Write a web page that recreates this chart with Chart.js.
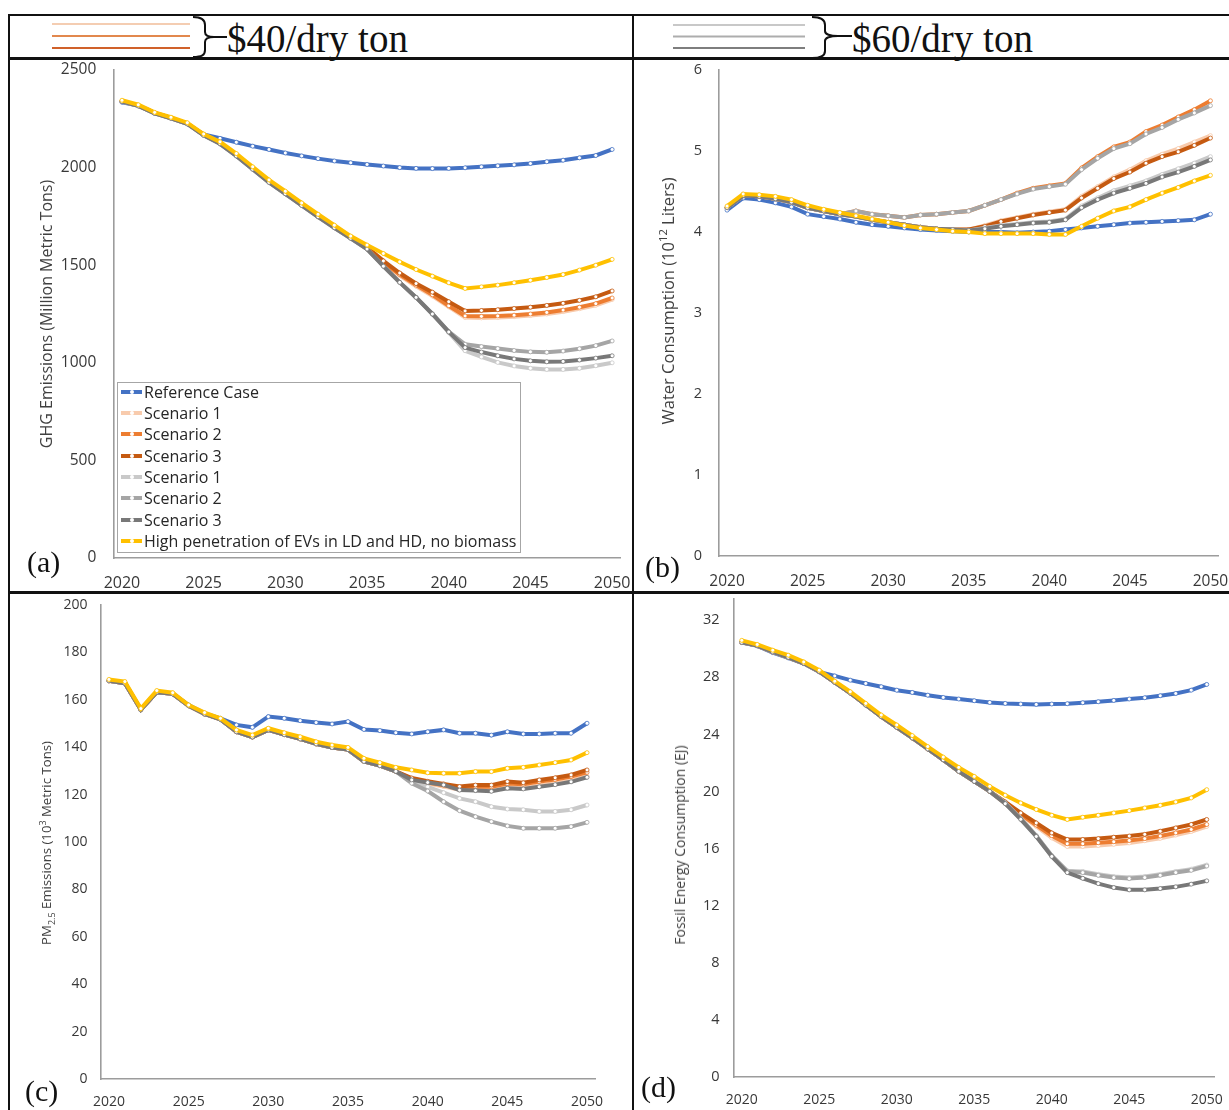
<!DOCTYPE html>
<html>
<head>
<meta charset="utf-8">
<script src="https://cdn.jsdelivr.net/npm/chart.js@4.4.1/dist/chart.umd.min.js"></script>
<style>
  html, body { margin: 0; padding: 0; background: #fff; }
  body { width: 1229px; height: 1110px; position: relative; overflow: hidden; font-family: "Open Sans", sans-serif; }
  svg.frame { position: absolute; left: 0; top: 0; }
  canvas.panel { position: absolute; }
  .ytitle { position: absolute; white-space: nowrap; color: #404040; transform: translate(-50%, -50%) rotate(-90deg); line-height: 1; }
  .ytitle sup, .ytitle sub { font-size: 0.68em; line-height: 0; }
  .tag { position: absolute; font-family: "Liberation Serif", "Times New Roman", serif; font-size: 30px; color: #111; line-height: 1; }
  .price { position: absolute; font-family: "Liberation Serif", "Times New Roman", serif; font-size: 39px; color: #111; line-height: 1; white-space: nowrap; }
  #legend { position: absolute; left: 117px; top: 382px; width: 404px; height: 171px; border: 1px solid #a6a6a6; box-sizing: border-box; background: #fff; padding-left: 3px; }
  #legend .rows { position: relative; top: -2px; }
  #legend .item { height: 21.35px; display: flex; align-items: center; font-size: 16px; color: #262626; white-space: nowrap; }
  #legend .sw { position: relative; width: 21px; height: 4px; margin-right: 2px; flex: none; }
  #legend .sw i { position: absolute; left: 8.5px; top: 0; width: 4px; height: 4px; border-radius: 50%; background: #fff; }
</style>
</head>
<body>

<svg class="frame" width="1229" height="1110" viewBox="0 0 1229 1110">
  <!-- table rules -->
  <rect x="8" y="14" width="1221" height="2" fill="#111"/>
  <rect x="8" y="57" width="1221" height="3" fill="#111"/>
  <rect x="8" y="591" width="1221" height="3" fill="#111"/>
  <rect x="8" y="14" width="2" height="1096" fill="#111"/>
  <rect x="632" y="14" width="2" height="1096" fill="#111"/>
  <!-- $40 key -->
  <line x1="52" y1="24" x2="190" y2="24" stroke="#F4CDB2" stroke-width="2"/>
  <line x1="52" y1="36" x2="190" y2="36" stroke="#E2884E" stroke-width="2"/>
  <line x1="52" y1="48" x2="190" y2="48" stroke="#D0612A" stroke-width="2.2"/>
  <path d="M193,17 C202,17 205,20 205,25 L205,32 C205,35 208,37 214,37 C208,37 205,39 205,42 L205,50 C205,55 202,57 193,57" fill="none" stroke="#111" stroke-width="2"/>
  <line x1="214" y1="37" x2="227" y2="37" stroke="#111" stroke-width="2"/>
  <!-- $60 key -->
  <line x1="673" y1="25" x2="805" y2="25" stroke="#C8C8C8" stroke-width="2"/>
  <line x1="673" y1="36.5" x2="805" y2="36.5" stroke="#ADADAD" stroke-width="2"/>
  <line x1="673" y1="48" x2="805" y2="48" stroke="#7E7E7E" stroke-width="2.2"/>
  <path d="M812,17 C822,17 825,20 825,25 L825,31 C825,34 830,36 838,36 C830,36 825,38 825,41 L825,51 C825,55 822,58 812,58" fill="none" stroke="#111" stroke-width="2"/>
  <line x1="838" y1="36" x2="852" y2="36" stroke="#111" stroke-width="2"/>
</svg>

<div class="price" style="left:227px; top:18.5px;">$40/dry ton</div>
<div class="price" style="left:852px; top:18.5px;">$60/dry ton</div>

<canvas id="ghgChart" class="panel"></canvas>
<canvas id="waterChart" class="panel"></canvas>
<canvas id="pmChart" class="panel"></canvas>
<canvas id="fossilChart" class="panel"></canvas>

<div class="ytitle" style="left:46px; top:314px; font-size:16px;">GHG Emissions (Million Metric Tons)</div>
<div class="ytitle" style="left:668px; top:301px; font-size:16.5px;">Water Consumption (10<sup>12</sup> Liters)</div>
<div class="ytitle" style="left:47px; top:843px; font-size:13.2px;">PM<sub>2.5</sub> Emissions (10<sup>3</sup> Metric Tons)</div>
<div class="ytitle" style="left:680px; top:845px; font-size:14px;">Fossil Energy Consumption (EJ)</div>

<div class="tag" style="left:27px; top:546.5px;">(a)</div>
<div class="tag" style="left:645px; top:552px;">(b)</div>
<div class="tag" style="left:25px; top:1076px;">(c)</div>
<div class="tag" style="left:641px; top:1072px;">(d)</div>

<div id="legend"><div class="rows"></div></div>

<script>
// Years on the category axis
const years = ['2020','2021','2022','2023','2024','2025','2026','2027','2028','2029',
               '2030','2031','2032','2033','2034','2035','2036','2037','2038','2039',
               '2040','2041','2042','2043','2044','2045','2046','2047','2048','2049','2050'];

// Series names and colours (legend order)
const seriesNames = ['Reference Case', 'Scenario 1', 'Scenario 2', 'Scenario 3',
                     'Scenario 1', 'Scenario 2', 'Scenario 3',
                     'High penetration of EVs in LD and HD, no biomass'];
const seriesColors = ['#4472C4', '#F8CBAD', '#ED7D31', '#C55A11',
                      '#C9C9C9', '#A5A5A5', '#787878', '#FFC000'];

// (a) GHG emissions, million metric tons
const ghgReference = [2335, 2318, 2280, 2255, 2225, 2170, 2150, 2130, 2110, 2093, 2075, 2060, 2046, 2034, 2025, 2016, 2008, 2000, 1996, 1995, 1996, 1999, 2004, 2009, 2014, 2021, 2030, 2038, 2050, 2062, 2093];
const ghg40S1 = [2340, 2318, 2280, 2254, 2226, 2168, 2126, 2064, 1996, 1928, 1870, 1810, 1752, 1696, 1641, 1588, 1513, 1447, 1392, 1342, 1287, 1232, 1230, 1232, 1236, 1242, 1250, 1262, 1277, 1295, 1324];
const ghg40S2 = [2340, 2318, 2280, 2254, 2226, 2168, 2126, 2064, 1996, 1928, 1870, 1810, 1752, 1696, 1641, 1589, 1516, 1452, 1398, 1348, 1292, 1240, 1238, 1240, 1244, 1250, 1258, 1270, 1285, 1303, 1332];
const ghg40S3 = [2340, 2318, 2280, 2254, 2226, 2168, 2126, 2064, 1996, 1928, 1870, 1810, 1752, 1696, 1642, 1592, 1522, 1460, 1406, 1362, 1313, 1266, 1268, 1272, 1278, 1285, 1294, 1305, 1320, 1338, 1368];
const ghg60S1 = [2338, 2316, 2278, 2252, 2224, 2165, 2122, 2060, 1992, 1924, 1866, 1806, 1748, 1692, 1638, 1583, 1495, 1412, 1335, 1250, 1155, 1062, 1030, 1002, 984, 972, 966, 966, 972, 985, 1000];
const ghg60S2 = [2338, 2316, 2278, 2252, 2224, 2165, 2122, 2060, 1992, 1924, 1866, 1806, 1748, 1692, 1638, 1583, 1495, 1412, 1335, 1250, 1160, 1095, 1083, 1073, 1063, 1056, 1054, 1060, 1072, 1088, 1112];
const ghg60S3 = [2338, 2316, 2278, 2252, 2224, 2165, 2122, 2060, 1992, 1924, 1866, 1806, 1748, 1692, 1638, 1583, 1495, 1412, 1335, 1250, 1158, 1078, 1055, 1036, 1020, 1010, 1005, 1007, 1014, 1024, 1036];
const ghgHighEV = [2345, 2322, 2283, 2258, 2230, 2172, 2132, 2072, 2004, 1937, 1879, 1819, 1761, 1705, 1649, 1603, 1560, 1517, 1478, 1444, 1410, 1381, 1389, 1398, 1410, 1423, 1437, 1452, 1475, 1500, 1530];

// (b) Water consumption, 10^12 liters
const waterReference = [4.27, 4.42, 4.40, 4.36, 4.31, 4.22, 4.19, 4.16, 4.12, 4.09, 4.07, 4.05, 4.03, 4.02, 4.01, 4.00, 4.00, 4.00, 3.99, 4.00, 4.01, 4.03, 4.05, 4.07, 4.09, 4.11, 4.12, 4.13, 4.14, 4.15, 4.22];
const water40S1 = [4.30, 4.45, 4.44, 4.41, 4.37, 4.30, 4.26, 4.22, 4.19, 4.15, 4.12, 4.09, 4.06, 4.04, 4.03, 4.03, 4.08, 4.14, 4.18, 4.22, 4.25, 4.28, 4.44, 4.56, 4.68, 4.77, 4.88, 4.96, 5.03, 5.11, 5.19];
const water40S2 = [4.30, 4.45, 4.44, 4.41, 4.37, 4.30, 4.26, 4.22, 4.26, 4.22, 4.20, 4.18, 4.21, 4.22, 4.24, 4.26, 4.33, 4.40, 4.48, 4.54, 4.57, 4.60, 4.79, 4.93, 5.05, 5.11, 5.24, 5.32, 5.42, 5.51, 5.62];
const water40S3 = [4.30, 4.45, 4.44, 4.41, 4.37, 4.30, 4.26, 4.22, 4.19, 4.15, 4.12, 4.09, 4.06, 4.04, 4.03, 4.03, 4.07, 4.13, 4.17, 4.21, 4.24, 4.27, 4.42, 4.54, 4.66, 4.74, 4.85, 4.93, 4.99, 5.07, 5.16];
const water60S1 = [4.30, 4.45, 4.44, 4.41, 4.37, 4.30, 4.26, 4.22, 4.19, 4.15, 4.12, 4.09, 4.06, 4.04, 4.03, 4.02, 4.05, 4.08, 4.10, 4.12, 4.13, 4.16, 4.32, 4.42, 4.51, 4.57, 4.63, 4.71, 4.78, 4.85, 4.93];
const water60S2 = [4.30, 4.45, 4.44, 4.41, 4.37, 4.30, 4.26, 4.22, 4.26, 4.22, 4.20, 4.18, 4.21, 4.22, 4.24, 4.26, 4.33, 4.40, 4.47, 4.53, 4.56, 4.59, 4.77, 4.91, 5.03, 5.09, 5.21, 5.29, 5.39, 5.47, 5.56];
const water60S3 = [4.30, 4.45, 4.44, 4.41, 4.37, 4.30, 4.26, 4.22, 4.19, 4.15, 4.12, 4.09, 4.06, 4.04, 4.03, 4.02, 4.04, 4.07, 4.09, 4.11, 4.12, 4.15, 4.30, 4.40, 4.48, 4.54, 4.60, 4.68, 4.74, 4.81, 4.89];
const waterHighEV = [4.32, 4.47, 4.46, 4.44, 4.40, 4.33, 4.28, 4.24, 4.20, 4.16, 4.12, 4.08, 4.05, 4.03, 4.01, 4.00, 3.98, 3.98, 3.98, 3.98, 3.97, 3.97, 4.07, 4.17, 4.26, 4.31, 4.40, 4.48, 4.55, 4.63, 4.70];

// (c) PM2.5 emissions, 10^3 metric tons
const pmReference = [168.1, 167.2, 156.0, 163.4, 162.7, 157.8, 154.3, 152.2, 149.4, 148.4, 152.9, 152.2, 151.2, 150.4, 149.8, 150.8, 147.5, 147.0, 146.1, 145.6, 146.5, 147.3, 145.9, 145.9, 145.1, 146.5, 145.6, 145.6, 145.9, 145.9, 150.1];
const pm40S1 = [168.0, 167.0, 155.8, 163.2, 162.5, 157.5, 154.0, 151.7, 146.5, 144.3, 147.3, 145.3, 143.5, 141.4, 139.9, 139.0, 134.0, 132.2, 129.8, 126.3, 124.7, 123.4, 122.0, 122.1, 121.9, 123.2, 122.9, 123.9, 124.8, 125.9, 127.8];
const pm40S2 = [168.0, 167.0, 155.8, 163.2, 162.5, 157.5, 154.0, 151.7, 146.5, 144.3, 147.3, 145.3, 143.5, 141.4, 139.9, 139.0, 134.0, 132.2, 129.8, 126.6, 125.1, 123.9, 122.8, 123.3, 123.3, 124.7, 124.4, 125.5, 126.4, 127.6, 129.4];
const pm40S3 = [168.0, 167.0, 155.8, 163.2, 162.5, 157.5, 154.0, 151.7, 146.5, 144.3, 147.3, 145.3, 143.5, 141.4, 139.9, 139.0, 134.0, 132.2, 129.8, 127.0, 125.6, 124.5, 123.4, 124.0, 124.0, 125.5, 125.0, 126.2, 127.1, 128.3, 130.4];
const pm60S1 = [168.0, 167.0, 155.8, 163.2, 162.5, 157.5, 154.0, 151.7, 146.5, 144.3, 147.3, 145.3, 143.5, 141.4, 139.9, 139.0, 134.0, 132.2, 129.8, 125.4, 123.3, 120.8, 118.4, 117.0, 114.9, 113.9, 113.6, 112.9, 112.9, 113.6, 115.6];
const pm60S2 = [168.0, 167.0, 155.8, 163.2, 162.5, 157.5, 154.0, 151.7, 146.5, 144.3, 147.3, 145.3, 143.5, 141.4, 139.9, 139.0, 134.0, 132.2, 129.8, 124.8, 121.5, 117.0, 113.2, 110.7, 108.6, 106.8, 105.8, 105.8, 105.8, 106.5, 108.3];
const pm60S3 = [168.0, 167.0, 155.8, 163.2, 162.5, 157.5, 154.0, 151.7, 146.5, 144.3, 147.3, 145.3, 143.5, 141.4, 139.9, 139.0, 134.0, 132.2, 129.8, 126.2, 125.1, 124.1, 121.9, 121.7, 121.4, 122.7, 122.4, 123.3, 124.2, 125.4, 127.3];
const pmHighEV = [168.6, 167.7, 156.3, 163.9, 163.0, 157.8, 154.6, 152.2, 147.3, 145.1, 148.0, 146.1, 144.4, 142.3, 140.9, 139.9, 135.3, 133.5, 131.5, 130.4, 129.2, 129.0, 129.0, 129.7, 129.7, 131.1, 131.5, 132.5, 133.5, 134.6, 137.7];

// (d) Fossil energy consumption, EJ
const fossilReference = [30.43, 30.20, 29.73, 29.36, 28.96, 28.38, 28.10, 27.80, 27.57, 27.34, 27.10, 26.94, 26.75, 26.59, 26.48, 26.36, 26.24, 26.17, 26.13, 26.10, 26.13, 26.15, 26.22, 26.29, 26.38, 26.48, 26.57, 26.71, 26.87, 27.10, 27.50];
const fossil40S1 = [30.45, 30.22, 29.78, 29.40, 28.98, 28.40, 27.65, 26.90, 26.06, 25.25, 24.50, 23.75, 22.98, 22.22, 21.41, 20.71, 20.01, 19.15, 18.35, 17.55, 16.75, 16.15, 16.15, 16.22, 16.30, 16.40, 16.55, 16.72, 16.95, 17.20, 17.55];
const fossil40S2 = [30.45, 30.22, 29.78, 29.40, 28.98, 28.40, 27.65, 26.90, 26.06, 25.25, 24.50, 23.75, 22.98, 22.22, 21.41, 20.71, 20.01, 19.20, 18.40, 17.65, 16.90, 16.34, 16.34, 16.41, 16.48, 16.57, 16.70, 16.88, 17.10, 17.34, 17.69];
const fossil40S3 = [30.45, 30.22, 29.78, 29.40, 28.98, 28.40, 27.65, 26.90, 26.06, 25.25, 24.50, 23.75, 22.98, 22.22, 21.41, 20.71, 20.01, 19.27, 18.50, 17.80, 17.10, 16.64, 16.64, 16.70, 16.80, 16.88, 17.00, 17.22, 17.45, 17.69, 18.04];
const fossil60S1 = [30.45, 30.22, 29.78, 29.40, 28.98, 28.40, 27.65, 26.90, 26.06, 25.25, 24.50, 23.75, 22.98, 22.22, 21.41, 20.71, 20.01, 19.20, 18.10, 16.90, 15.50, 14.45, 14.40, 14.20, 14.05, 13.98, 14.05, 14.20, 14.40, 14.56, 14.85];
const fossil60S2 = [30.45, 30.22, 29.78, 29.40, 28.98, 28.40, 27.65, 26.90, 26.06, 25.25, 24.50, 23.75, 22.98, 22.22, 21.41, 20.71, 20.01, 19.20, 18.10, 16.90, 15.50, 14.40, 14.32, 14.13, 13.97, 13.90, 13.97, 14.13, 14.32, 14.48, 14.78];
const fossil60S3 = [30.45, 30.22, 29.78, 29.40, 28.98, 28.40, 27.65, 26.90, 26.06, 25.25, 24.50, 23.75, 22.98, 22.22, 21.41, 20.71, 20.01, 19.15, 18.05, 16.85, 15.45, 14.32, 13.92, 13.55, 13.27, 13.11, 13.11, 13.20, 13.32, 13.51, 13.74];
const fossilHighEV = [30.59, 30.30, 29.90, 29.55, 29.08, 28.50, 27.73, 26.99, 26.17, 25.36, 24.66, 23.92, 23.15, 22.41, 21.69, 21.06, 20.36, 19.74, 19.20, 18.74, 18.34, 18.04, 18.20, 18.34, 18.50, 18.66, 18.85, 19.04, 19.27, 19.55, 20.13];

const TICK_COLOR = '#383838';
const AXIS_COLOR = '#9c9c9c';

function buildDatasets(seriesList) {
  const n = seriesList.length;
  return seriesList.map((values, k) => ({
    label: seriesNames[k],
    data: values,
    borderColor: seriesColors[k],
    backgroundColor: seriesColors[k],
    borderWidth: 4,
    pointRadius: 2,
    pointBorderWidth: 0.8,
    pointBackgroundColor: '#ffffff',
    pointBorderColor: seriesColors[k],
    tension: 0,
    // later series sit on top, as in the source workbook
    order: n - 1 - k
  }));
}

// Places a canvas at `box` and lays the plot frame exactly on `area`
function drawPanel(id, box, area, cfg) {
  const cv = document.getElementById(id);
  cv.width = box.width; cv.height = box.height;
  cv.style.left = box.left + 'px'; cv.style.top = box.top + 'px';
  cv.style.width = box.width + 'px'; cv.style.height = box.height + 'px';
  const yW = 60, xH = 30;
  const zeroPad = s => { s.paddingLeft = 0; s.paddingRight = 0; s.paddingTop = 0; s.paddingBottom = 0; };
  return new Chart(cv, {
    type: 'line',
    data: { labels: years, datasets: buildDatasets(cfg.series) },
    options: {
      responsive: false,
      animation: false,
      devicePixelRatio: 1,
      layout: { padding: {
        left: area.left - box.left - yW,
        top: area.top - box.top,
        right: box.left + box.width - area.right,
        bottom: box.top + box.height - area.bottom - xH
      } },
      plugins: { legend: { display: false }, tooltip: { enabled: false } },
      scales: {
        x: {
          type: 'category',
          offset: true,
          grid: { display: false, drawTicks: false },
          border: { display: true, color: AXIS_COLOR, width: 1.6 },
          ticks: {
            autoSkip: false, maxRotation: 0, minRotation: 0,
            padding: cfg.xPad, color: TICK_COLOR,
            font: { family: 'Open Sans', size: cfg.xFont },
            callback: (v, i) => (i % 5 === 0 ? years[i] : '')
          },
          afterFit: s => { s.height = xH; zeroPad(s); }
        },
        y: {
          type: 'linear',
          min: cfg.min, max: cfg.max,
          grid: { display: false, drawTicks: false },
          border: { display: true, color: AXIS_COLOR, width: 1.6 },
          ticks: {
            stepSize: cfg.step, padding: cfg.yPad, color: TICK_COLOR,
            font: { family: 'Open Sans', size: cfg.yFont },
            callback: v => String(v)
          },
          afterBuildTicks: s => { s.ticks = s.ticks.filter(t => Math.abs(t.value / cfg.step - Math.round(t.value / cfg.step)) < 1e-6); },
          afterFit: s => { s.width = yW; zeroPad(s); }
        }
      }
    }
  });
}

drawPanel('ghgChart',
  { left: 40, top: 62, width: 600, height: 528 },
  { left: 113.8, top: 70, right: 620.3, bottom: 558 },
  { series: [ghgReference, ghg40S1, ghg40S2, ghg40S3, ghg60S1, ghg60S2, ghg60S3, ghgHighEV],
    min: 0, max: 2500, step: 500, xPad: 15.5, yPad: 17.5, xFont: 16, yFont: 15.5 });

drawPanel('waterChart',
  { left: 660, top: 62, width: 569, height: 528 },
  { left: 719, top: 70, right: 1218.5, bottom: 556 },
  { series: [waterReference, water40S1, water40S2, water40S3, water60S1, water60S2, water60S3, waterHighEV],
    min: 0, max: 6, step: 1, xPad: 16, yPad: 17, xFont: 15.5, yFont: 14.5 });

drawPanel('pmChart',
  { left: 40, top: 594, width: 590, height: 516 },
  { left: 101, top: 605, right: 595, bottom: 1079 },
  { series: [pmReference, pm40S1, pm40S2, pm40S3, pm60S1, pm60S2, pm60S3, pmHighEV],
    min: 0, max: 200, step: 20, xPad: 15, yPad: 13.5, xFont: 14, yFont: 14 });

drawPanel('fossilChart',
  { left: 660, top: 594, width: 569, height: 516 },
  { left: 734, top: 596.5, right: 1214.5, bottom: 1077 },
  { series: [fossilReference, fossil40S1, fossil40S2, fossil40S3, fossil60S1, fossil60S2, fossil60S3, fossilHighEV],
    min: 0, max: 33.5, step: 4, xPad: 15, yPad: 14.5, xFont: 14, yFont: 14.5 });

// Legend for panel (a), built from the series names and colours
const rows = document.querySelector('#legend .rows');
seriesNames.forEach((name, k) => {
  const row = document.createElement('div');
  row.className = 'item';
  const sw = document.createElement('span');
  sw.className = 'sw';
  sw.style.background = seriesColors[k];
  sw.appendChild(document.createElement('i'));
  row.appendChild(sw);
  row.appendChild(document.createTextNode(name));
  rows.appendChild(row);
});
</script>
</body>
</html>
